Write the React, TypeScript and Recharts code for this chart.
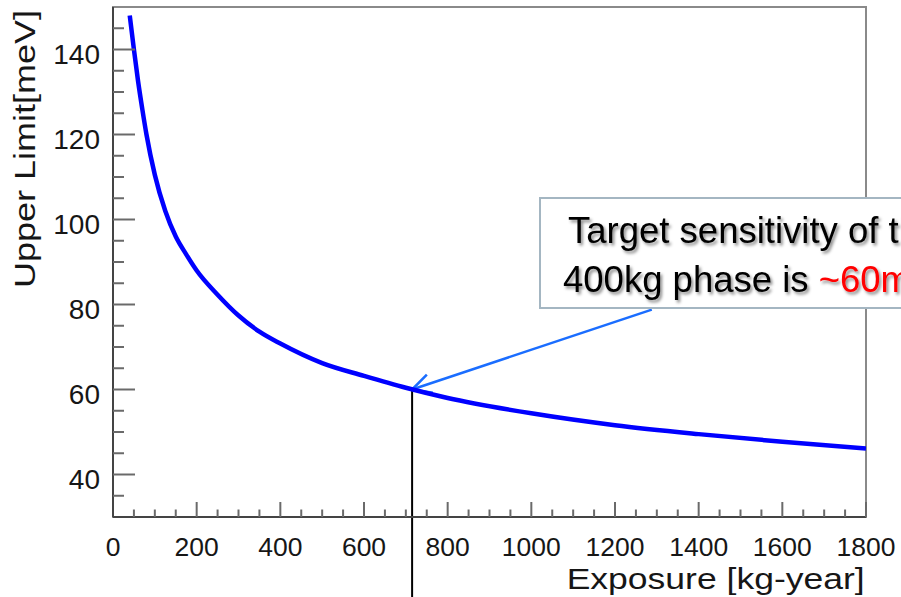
import React from 'react';
import { LineChart, Line, XAxis, YAxis, ReferenceLine, ReferenceArea } from 'recharts';

// ---- data ----
const exposure = [40, 50, 60, 70, 80, 100, 125, 150, 175, 200, 250, 300, 350, 400, 500, 600, 700, 800, 1000, 1200, 1400, 1600, 1800];
const upperLimit = [148, 140, 132.5, 126, 120, 110.5, 102, 96, 91.8, 88, 82.3, 77.4, 73.6, 70.8, 66.2, 63.2, 60.4, 58.0, 54.4, 51.6, 49.5, 47.7, 46.1];

const xLabelTicks = [0, 200, 400, 600, 800, 1000, 1200, 1400, 1600, 1800];
const yLabelTicks = [40, 60, 80, 100, 120, 140];
const xDomain = [0, 1800];
const yDomain = [30, 150];
const xMinorStep = 50;
const yMinorStep = 5;

const targetExposure = 715;
const targetLimit = 60;
const arrowFrom = { x: 1288, y: 78.8 };

const xTitle = 'Exposure [kg-year]';
const yTitle = 'Upper Limit[meV]';
const noteLine1 = 'Target sensitivity of the';
const noteLine2a = '400kg phase is ';
const noteLine2b = '~60meV';

const data = exposure.map((e, i) => ({ exposure: e, limit: upperLimit[i] }));
const xTicks: number[] = [];
for (let v = xDomain[0]; v <= xDomain[1]; v += xMinorStep) xTicks.push(v);
const yTicks: number[] = [];
for (let v = yDomain[0] + yMinorStep; v < yDomain[1]; v += yMinorStep) yTicks.push(v);

const FONT = '"Liberation Sans", Arial, Helvetica, sans-serif';

function YTick(props: any) {
  const { x, y, payload } = props;
  const v = payload.value;
  const major = yLabelTicks.includes(v);
  return (
    <g>
      <line x1={x} y1={y} x2={x + (major ? 22 : 11)} y2={y} stroke="#6a6a6a" strokeWidth={2} />
      {major && (
        <text x={x - 13} y={y + 14} textAnchor="end" fontSize={28} fill="#161616" fontFamily={FONT}>
          {v}
        </text>
      )}
    </g>
  );
}

function XTick(props: any) {
  const { x, y, payload } = props;
  const v = payload.value;
  const major = xLabelTicks.includes(v);
  return (
    <g>
      {v > xDomain[0] && (
        <line x1={x} y1={y} x2={x} y2={y - (major ? 15 : 7.5)} stroke="#6a6a6a" strokeWidth={2} />
      )}
      {major && (
        <text x={x} y={y + 39} textAnchor="middle" fontSize={26.5} fill="#161616" fontFamily={FONT}>
          {v}
        </text>
      )}
    </g>
  );
}

function ArrowShape(props: any) {
  const { x1, y1, x2, y2 } = props;
  const ang = Math.atan2(y1 - y2, x1 - x2);
  const len = 21;
  const spread = (27 * Math.PI) / 180;
  const w1x = x2 + len * Math.cos(ang - spread);
  const w1y = y2 + len * Math.sin(ang - spread);
  const w2x = x2 + len * Math.cos(ang + spread);
  const w2y = y2 + len * Math.sin(ang + spread);
  const color = '#1a6dff';
  return (
    <g>
      <line x1={x1} y1={y1} x2={x2} y2={y2} stroke={color} strokeWidth={2.5} />
      <polyline
        points={`${w1x},${w1y} ${x2},${y2} ${w2x},${w2y}`}
        fill="none"
        stroke={color}
        strokeWidth={2.5}
        strokeLinejoin="miter"
      />
    </g>
  );
}

export default function App() {
  return (
    <div
      style={{
        position: 'absolute',
        left: 0,
        top: 0,
        width: 901,
        height: 597,
        overflow: 'hidden',
        background: '#fff',
        fontFamily: FONT,
      }}
    >
      <LineChart width={901} height={597} data={data} margin={{ top: 7, right: 35, bottom: 0, left: 0 }}>
        <ReferenceArea
          x1={xDomain[0]}
          x2={xDomain[1]}
          y1={yDomain[0]}
          y2={yDomain[1]}
          fill="none"
          fillOpacity={0}
          stroke="#8a8a8a"
          strokeWidth={2}
          ifOverflow="visible"
        />
        <XAxis
          dataKey="exposure"
          type="number"
          domain={xDomain}
          ticks={xTicks}
          interval={0}
          tick={<XTick />}
          tickSize={0}
          tickMargin={0}
          tickLine={false}
          axisLine={{ stroke: '#444', strokeWidth: 2 }}
          height={80}
          allowDataOverflow
        />
        <YAxis
          type="number"
          domain={yDomain}
          ticks={yTicks}
          interval={0}
          tick={<YTick />}
          tickSize={0}
          tickMargin={0}
          tickLine={false}
          axisLine={{ stroke: '#444', strokeWidth: 2 }}
          width={113}
          allowDataOverflow
        />
        <ReferenceLine
          segment={[
            { x: arrowFrom.x, y: arrowFrom.y },
            { x: targetExposure, y: targetLimit },
          ]}
          shape={ArrowShape}
          ifOverflow="visible"
        />
        <ReferenceLine
          segment={[
            { x: targetExposure, y: targetLimit },
            { x: targetExposure, y: 10 },
          ]}
          stroke="#000"
          strokeWidth={2}
          ifOverflow="visible"
        />
        <Line
          dataKey="limit"
          type="monotone"
          stroke="#0000ff"
          strokeWidth={4.5}
          dot={false}
          isAnimationActive={false}
        />
      </LineChart>
      <svg
        width={901}
        height={597}
        style={{ position: 'absolute', left: 0, top: 0, pointerEvents: 'none' }}
        fontFamily={FONT}
      >
        <defs>
          <filter id="tshadow" x="-5%" y="-30%" width="110%" height="160%">
            <feDropShadow dx="2" dy="2.5" stdDeviation="1.6" floodColor="#000" floodOpacity="0.45" />
          </filter>
        </defs>
        <rect x={540} y={198} width={400} height={110} fill="#fff" stroke="#a4b6c2" strokeWidth={2} />
        <text x={568} y={243} fontSize={36.5} fill="#000" filter="url(#tshadow)">
          {noteLine1}
        </text>
        <text x={563} y={292} fontSize={36.5} fill="#000" filter="url(#tshadow)">
          {noteLine2a}
          <tspan fill="#ff0000">{noteLine2b}</tspan>
        </text>
        <text x={566.7} y={588.5} fontSize={29} fill="#161616" textLength={298} lengthAdjust="spacingAndGlyphs">
          {xTitle}
        </text>
        <text
          transform="translate(35,288) rotate(-90)"
          x={0}
          y={0}
          fontSize={29}
          fill="#161616"
          textLength={278}
          lengthAdjust="spacingAndGlyphs"
        >
          {yTitle}
        </text>
      </svg>
    </div>
  );
}
